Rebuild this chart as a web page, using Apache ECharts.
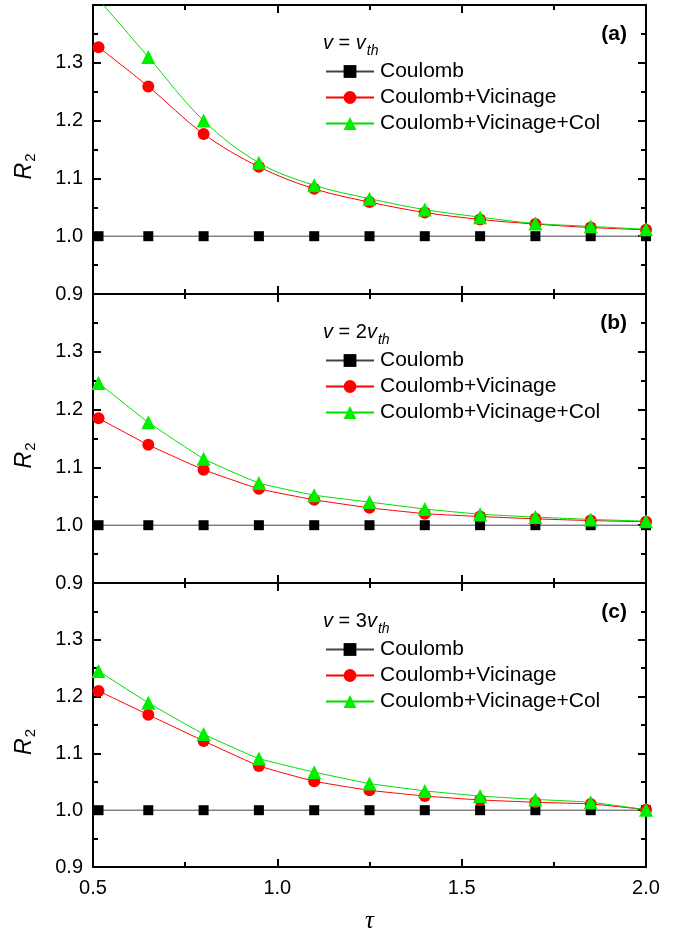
<!DOCTYPE html>
<html><head><meta charset="utf-8">
<script src="https://cdn.jsdelivr.net/npm/echarts@6/dist/echarts.min.js"></script>
<style>html,body{margin:0;padding:0;background:#fff}#c{width:685px;height:935px}</style>
</head><body><div id="c"></div>
<script>
const tau = [0.515, 0.65, 0.8, 0.95, 1.1, 1.25, 1.4, 1.55, 1.7, 1.85, 2.0];
const seriesNames = ['Coulomb', 'Coulomb+Vicinage', 'Coulomb+Vicinage+Col'];
const panelLabels = ['(a)', '(b)', '(c)'];
const velocityPrefix = ['', '2', '3'];
const yTicks = [0.9, 1.0, 1.1, 1.2, 1.3];
const xTicks = [0.5, 1.0, 1.5, 2.0];

const coulA = [1, 1, 1, 1, 1, 1, 1, 1, 1, 1, 1];
const vicA  = [1.327, 1.259, 1.177, 1.120, 1.082, 1.059, 1.041, 1.029, 1.021, 1.015, 1.011];
const colA  = [1.410, 1.310, 1.200, 1.127, 1.088, 1.065, 1.046, 1.033, 1.022, 1.017, 1.012];

const coulB = [1, 1, 1, 1, 1, 1, 1, 1, 1, 1, 1];
const vicB  = [1.185, 1.139, 1.096, 1.063, 1.044, 1.030, 1.020, 1.015, 1.011, 1.008, 1.006];
const colB  = [1.246, 1.178, 1.115, 1.073, 1.052, 1.040, 1.028, 1.019, 1.014, 1.010, 1.007];

const coulC = [1, 1, 1, 1, 1, 1, 1, 1, 1, 1, 1];
const vicC  = [1.210, 1.168, 1.122, 1.078, 1.051, 1.035, 1.025, 1.018, 1.014, 1.011, 1.001];
const colC  = [1.245, 1.189, 1.134, 1.091, 1.067, 1.047, 1.034, 1.025, 1.019, 1.014, 1.001];

const panels = [[coulA, vicA, colA], [coulB, vicB, colB], [coulC, vicC, colC]];
const smoothing = [0.35, 0.12, 0.12];

const gridTops = [5, 294, 583];
const gridH = 289;
const L = 93, R = 39;
const FONT = 'Liberation Sans, Arial, sans-serif';

const colors = ['#000000', '#ff0000', '#00ee00'];
const lineColors = ['#444444', '#ff0000', '#00dd00'];
const symbols = ['rect', 'circle', 'triangle'];
const sizes = [10, 12, 14];

const grids = [], xAxes = [], yAxes = [], series = [], legends = [], titles = [];
const zip = (a, b) => a.map((v, i) => [v, b[i]]);

panels.forEach((pd, p) => {
  grids.push({left: L, right: R, top: gridTops[p], height: gridH, containLabel: false});
  const last = p === 2;
  const axLine = {show: true, lineStyle: {color: '#000', width: 2}};
  const xBase = {
    type: 'value', gridIndex: p, min: 0.5, max: 2.0, interval: 0.5,
    axisLine: axLine, splitLine: {show: false},
    axisTick: {show: true, inside: true, length: 8, lineStyle: {color: '#000', width: 2}},
    minorTick: {show: true, splitNumber: 2, length: 5, lineStyle: {color: '#000', width: 2}},
  };
  xAxes.push(Object.assign({}, xBase, {
    position: 'bottom',
    axisLabel: {show: last, fontFamily: FONT, fontSize: 20, color: '#000', margin: 11,
      formatter: v => (xTicks.some(t => Math.abs(t - v) < 1e-6) ? v.toFixed(1) : '')},
    name: last ? 'τ' : '', nameLocation: 'middle', nameGap: 42,
    nameTextStyle: {fontFamily: 'Liberation Serif, serif', fontStyle: 'italic', fontSize: 25, color: '#000'}
  }));
  xAxes.push(Object.assign({}, xBase, {position: 'top', axisLabel: {show: false}}));
  const yBase = {
    type: 'value', gridIndex: p, min: 0.9, max: 1.4, interval: 0.1,
    axisLine: axLine, splitLine: {show: false},
    axisTick: {show: true, inside: true, length: 8, lineStyle: {color: '#000', width: 2}},
    minorTick: {show: true, splitNumber: 2, length: 5, lineStyle: {color: '#000', width: 2}},
  };
  yAxes.push(Object.assign({}, yBase, {
    position: 'left',
    axisLabel: {show: true, showMaxLabel: false, fontFamily: FONT, fontSize: 20, color: '#000', margin: 10,
      formatter: v => (yTicks.some(t => Math.abs(t - v) < 1e-6) ? v.toFixed(1) : '')},
    name: '{r|R}{s|2}', nameLocation: 'middle', nameGap: 55, nameRotate: 90,
    nameTextStyle: {padding: [0, 34, 0, 0], rich: {
      r: {fontFamily: FONT, fontStyle: 'italic', fontSize: 23, color: '#000'},
      s: {fontFamily: FONT, fontSize: 15, color: '#000', padding: [12, 0, 0, 1]}
    }}
  }));
  yAxes.push(Object.assign({}, yBase, {position: 'right', axisLabel: {show: false}}));

  pd.forEach((vals, s) => {
    series.push({
      name: seriesNames[s], type: 'line', xAxisIndex: 2 * p, yAxisIndex: 2 * p,
      data: zip(tau, vals), smooth: s === 0 ? false : smoothing[p], clip: true,
      symbol: symbols[s], symbolSize: sizes[s], showSymbol: true,
      lineStyle: {color: lineColors[s], width: 1},
      itemStyle: {color: colors[s]}, z: 2 + s
    });
  });

  legends.push({
    orient: 'vertical', left: 320, top: gridTops[p] + 51, itemWidth: 48, itemHeight: 16,
    itemGap: 5, data: seriesNames, selectedMode: false,
    textStyle: {fontFamily: FONT, fontSize: 21, color: '#000', padding: [0, 0, 0, 1]}
  });
  titles.push({
    text: '{v|v} = ' + velocityPrefix[p] + '{v|v}{s|th}', left: 318, top: gridTops[p] + 19,
    textStyle: {fontFamily: FONT, fontSize: 20, fontWeight: 'normal', color: '#000', rich: {
      v: {fontFamily: FONT, fontStyle: 'italic', fontSize: 20, color: '#000'},
      s: {fontFamily: FONT, fontStyle: 'italic', fontSize: 14, color: '#000', padding: [15, 0, 0, 1]}
    }}
  });
  titles.push({
    text: panelLabels[p], right: 53, top: gridTops[p] + 14,
    textStyle: {fontFamily: FONT, fontSize: 21, fontWeight: 'bold', color: '#000'}
  });
});

const chart = echarts.init(document.getElementById('c'), null, {renderer: 'canvas'});
chart.setOption({
  animation: false, backgroundColor: '#fff',
  grid: grids, xAxis: xAxes, yAxis: yAxes, series: series, legend: legends, title: titles
});
</script></body></html>
